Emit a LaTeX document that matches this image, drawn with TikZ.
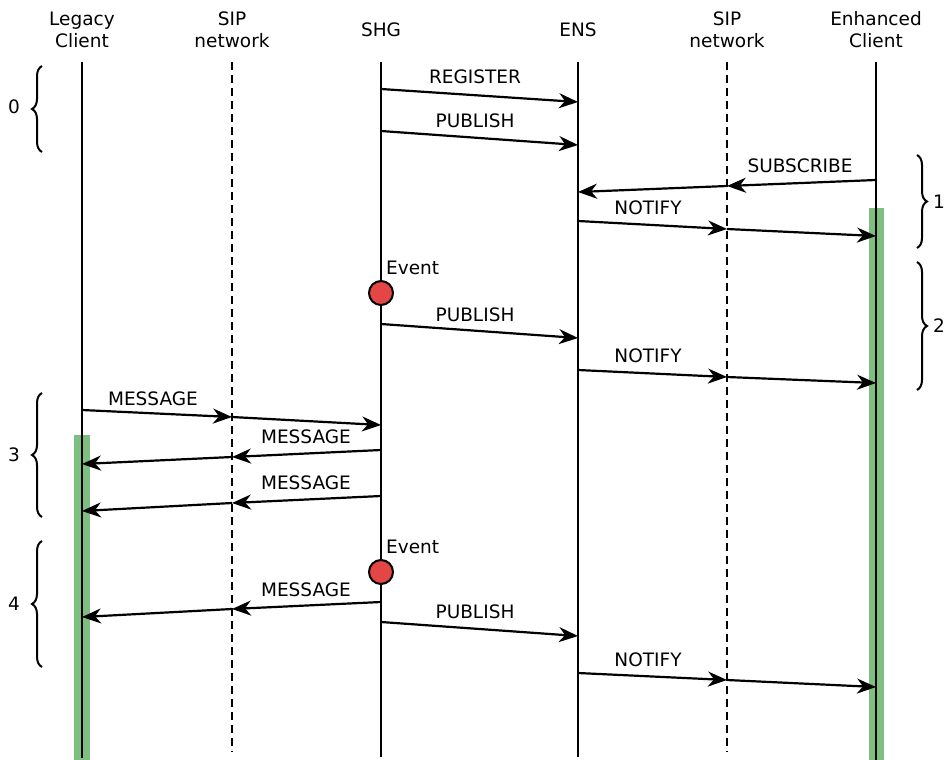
\documentclass[tikz,border=0pt]{standalone}
\usepackage{fontspec}
\setmainfont{DejaVu Sans}
\usetikzlibrary{arrows.meta,decorations.pathreplacing}
\definecolor{actgreen}{RGB}{126,190,128}
\definecolor{evred}{RGB}{228,70,70}
\tikzset{
  lbl/.style={font=\fontsize{18.5}{22}\selectfont, inner sep=0pt},
  head/.style={lbl, align=center},
  life/.style={line width=2.2pt},
  sipline/.style={line width=2.2pt, dash pattern=on 8pt off 5pt},
  msg/.style={line width=2.2pt, -{Stealth[length=19pt,width=15pt,inset=6pt]}},
  activ/.style={fill=actgreen, draw=none},
  evt/.style={circle, fill=evred, draw=black, line width=2pt, minimum size=24pt, inner sep=0pt},
  phase/.style={decorate, decoration={brace, amplitude=10pt}, line width=2pt},
}
\begin{document}
\begin{tikzpicture}[x=1pt, y=-1pt]
\useasboundingbox (0,0) rectangle (950,760);

% activation bars (behind the lifelines)
\fill[activ] (74,435) rectangle (90,760);
\fill[activ] (869,208) rectangle (884,760);

% participants
\node[head] (lc)  at (82,30)  {Legacy\\Client};
\node[head] (sp1) at (232,30) {SIP\\network};
\node[head] (shg) at (381,30) {SHG};
\node[head] (ens) at (578,30) {ENS};
\node[head] (sp2) at (727,30) {SIP\\network};
\node[head] (ec)  at (876,30) {Enhanced\\Client};

% lifelines
\draw[life]    (82,62)  -- (82,758);
\draw[sipline] (232,62) -- (232,752);
\draw[life]    (381,62) -- (381,757);
\draw[life]    (578,62) -- (578,757);
\draw[sipline] (727,62) -- (727,752);
\draw[life]    (876,62) -- (876,760);

% message end points on the lifelines
\coordinate (m1a) at (381,89);  \coordinate (m1b) at (578,102);
\coordinate (m2a) at (381,131); \coordinate (m2b) at (578,145);
\coordinate (m3a) at (876,180); \coordinate (m3s) at (727,186); \coordinate (m3b) at (578,192);
\coordinate (m4a) at (578,221); \coordinate (m4s) at (727,229); \coordinate (m4b) at (876,236);
\coordinate (m6a) at (381,324); \coordinate (m6b) at (578,338);
\coordinate (m7a) at (578,370); \coordinate (m7s) at (727,377); \coordinate (m7b) at (876,383);
\coordinate (m8a) at (82,410);  \coordinate (m8s) at (232,417); \coordinate (m8b) at (381,425);
\coordinate (m9a) at (381,450); \coordinate (m9s) at (232,457); \coordinate (m9b) at (82,464);
\coordinate (mAa) at (381,496); \coordinate (mAs) at (232,503); \coordinate (mAb) at (82,511);
\coordinate (mCa) at (381,602); \coordinate (mCs) at (232,609); \coordinate (mCb) at (82,617);
\coordinate (mDa) at (381,622); \coordinate (mDb) at (578,636);
\coordinate (mEa) at (578,673); \coordinate (mEs) at (727,680); \coordinate (mEb) at (876,687);

% messages
\draw[msg] (m1a) -- (m1b);
\node[lbl] (t1) at (475,77) {REGISTER};
\draw[msg] (m2a) -- (m2b);
\node[lbl] (t2) at (475,121) {PUBLISH};
\draw[msg] (m3a) -- (m3s); \draw[msg] (m3s) -- (m3b);
\node[lbl] (t3) at (800,166) {SUBSCRIBE};
\draw[msg] (m4a) -- (m4s); \draw[msg] (m4s) -- (m4b);
\node[lbl] (t4) at (648,208) {NOTIFY};

\node[evt] (e1) at (381,293) {};
\node[lbl, anchor=west] (te1) at (386,268) {Event};
\draw[msg] (m6a) -- (m6b);
\node[lbl] (t6) at (475,315) {PUBLISH};
\draw[msg] (m7a) -- (m7s); \draw[msg] (m7s) -- (m7b);
\node[lbl] (t7) at (648,356) {NOTIFY};

\draw[msg] (m8a) -- (m8s); \draw[msg] (m8s) -- (m8b);
\node[lbl] (t8) at (153,399) {MESSAGE};
\draw[msg] (m9a) -- (m9s); \draw[msg] (m9s) -- (m9b);
\node[lbl] (t9) at (306,437) {MESSAGE};
\draw[msg] (mAa) -- (mAs); \draw[msg] (mAs) -- (mAb);
\node[lbl] (tA) at (306,483) {MESSAGE};

\node[evt] (e2) at (381,572) {};
\node[lbl, anchor=west] (te2) at (386,547) {Event};
\draw[msg] (mCa) -- (mCs); \draw[msg] (mCs) -- (mCb);
\node[lbl] (tC) at (306,590) {MESSAGE};
\draw[msg] (mDa) -- (mDb);
\node[lbl] (tD) at (475,612) {PUBLISH};
\draw[msg] (mEa) -- (mEs); \draw[msg] (mEs) -- (mEb);
\node[lbl] (tE) at (648,660) {NOTIFY};

% phase braces
\draw[phase] (42,152) -- (42,66);
\node[lbl] (p0) at (14,107) {0};
\draw[phase] (917,155) -- (917,248);
\node[lbl] (p1) at (939,202) {1};
\draw[phase] (917,262) -- (917,390);
\node[lbl] (p2) at (939,326) {2};
\draw[phase] (42,517) -- (42,393);
\node[lbl] (p3) at (14,455) {3};
\draw[phase] (42,667) -- (42,541);
\node[lbl] (p4) at (14,604) {4};
\end{tikzpicture}
\end{document}
